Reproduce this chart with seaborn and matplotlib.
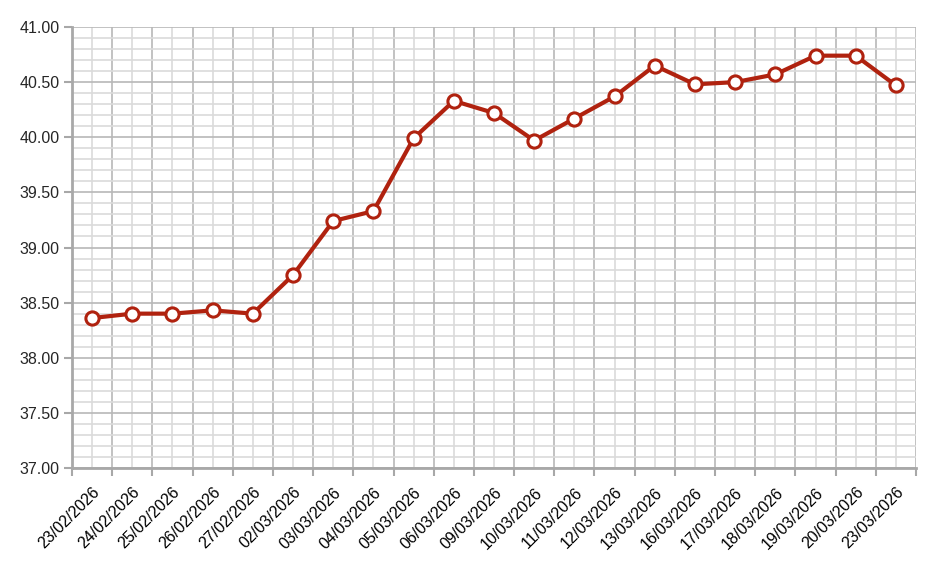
import numpy as np
import pandas as pd
import matplotlib
matplotlib.use("Agg")
import matplotlib.pyplot as plt
import seaborn as sns
from matplotlib.ticker import MultipleLocator, FormatStrFormatter

dates = ["23/02/2026", "24/02/2026", "25/02/2026", "26/02/2026", "27/02/2026",
         "02/03/2026", "03/03/2026", "04/03/2026", "05/03/2026", "06/03/2026",
         "09/03/2026", "10/03/2026", "11/03/2026", "12/03/2026", "13/03/2026",
         "16/03/2026", "17/03/2026", "18/03/2026", "19/03/2026", "20/03/2026",
         "23/03/2026"]
values = [38.36, 38.40, 38.40, 38.43, 38.40,
          38.75, 39.24, 39.33, 39.99, 40.33,
          40.22, 39.97, 40.17, 40.37, 40.65,
          40.48, 40.50, 40.57, 40.74, 40.74,
          40.47]

sns.set_theme(style="white")
plt.rcParams["font.family"] = ["Liberation Sans", "DejaVu Sans"]

df = pd.DataFrame({"date": dates, "value": values, "pos": np.arange(len(dates))})

fig = plt.figure(figsize=(9.41, 5.65), dpi=100)
ax = fig.add_axes([72 / 941, 1 - 468 / 565, (916 - 72) / 941, (468 - 27) / 565])

red = "#b0220f"
sns.lineplot(data=df, x="pos", y="value", ax=ax, color=red, linewidth=3.0,
             marker="o", markersize=9.5, markerfacecolor="white",
             markeredgecolor=red, markeredgewidth=2.2, zorder=5)

ax.set_xlim(-0.5, len(dates) - 0.5)
ax.set_ylim(37.0, 41.0)

# x: labels at category centres (light grid), boundaries as minor ticks (darker grid)
ax.set_xticks(df["pos"])
ax.set_xticklabels(dates, rotation=45, ha="right", rotation_mode="anchor")
ax.set_xticks(np.arange(-0.5, len(dates), 1), minor=True)
ax.tick_params(axis="x", which="major", length=0, pad=12, labelsize=11.5, colors="black")
ax.tick_params(axis="x", which="minor", length=6, width=1.5, color="#a8a8a8", direction="out", bottom=True)

ax.yaxis.set_major_locator(MultipleLocator(0.5))
ax.yaxis.set_minor_locator(MultipleLocator(0.1))
ax.yaxis.set_major_formatter(FormatStrFormatter("%.2f"))
ax.tick_params(axis="y", which="major", length=6, width=1.5, color="#a8a8a8", direction="out",
               left=True, labelsize=11.5, pad=3)
ax.tick_params(axis="y", which="minor", length=0)

ax.grid(False)
ax.xaxis.grid(True, which="major", color="#dadada", linewidth=1.2)
ax.xaxis.grid(True, which="minor", color="#b8b8b8", linewidth=1.2)
ax.yaxis.grid(True, which="minor", color="#dadada", linewidth=1.2)
ax.yaxis.grid(True, which="major", color="#b8b8b8", linewidth=1.2)
ax.set_axisbelow(True)

ax.set_xlabel("")
ax.set_ylabel("")
for side in ["top", "right"]:
    ax.spines[side].set_visible(False)
for side in ["left", "bottom"]:
    ax.spines[side].set_color("#a8a8a8")
    ax.spines[side].set_linewidth(2)

fig.savefig("out.png", dpi=100, facecolor="white")
